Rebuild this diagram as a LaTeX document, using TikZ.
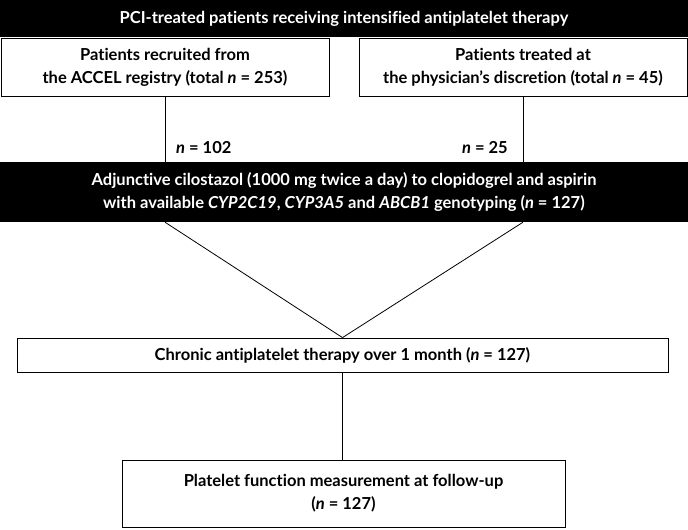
\documentclass[tikz,border=0pt]{standalone}
\usepackage{fontspec}
\setmainfont{Lato}[Ligatures={NoCommon,NoRare,NoContextual}]
\begin{document}
\begin{tikzpicture}[x=1pt,y=-1pt,
  darkbox/.style={fill=black,text=white,inner sep=0pt,align=center},
  lightbox/.style={draw=black,line width=0.8pt,fill=white,inner sep=0pt,align=center},
  link/.style={draw=black,line width=0.8pt}]
\useasboundingbox (0,0) rectangle (688,530);
\bfseries\fontsize{16.5}{23}\selectfont

\node[darkbox,minimum width=688pt,minimum height=37pt] (pci) at (344,18.5)
  {PCI-treated patients receiving intensified antiplatelet therapy};
\node[lightbox,minimum width=328pt,minimum height=58pt] (accel) at (165,67)
  {Patients recruited from\\the ACCEL registry (total \textit{n} = 253)};
\node[lightbox,minimum width=328pt,minimum height=58pt] (phys) at (523,67)
  {Patients treated at\\the physician's discretion (total \textit{n} = 45)};

\node[darkbox,minimum width=688pt,minimum height=60pt] (cilo) at (344,192)
  {Adjunctive cilostazol (1000 mg twice a day) to clopidogrel and aspirin\\
   with available \textit{CYP2C19}, \textit{CYP3A5} and \textit{ABCB1} genotyping (\textit{n} = 127)};

\node[lightbox,minimum width=651pt,minimum height=34pt] (chronic) at (342.5,355)
  {Chronic antiplatelet therapy over 1 month (\textit{n} = 127)};
\node[lightbox,minimum width=443pt,minimum height=67pt] (pfm) at (343.5,493.5)
  {Platelet function measurement at follow-up\\(\textit{n} = 127)};

% counts on the feed lines
\node[anchor=west,inner sep=0pt] (nleft) at (176,148) {\textit{n} = 102};
\node[anchor=east,inner sep=0pt] (nright) at (508,148) {\textit{n} = 25};

\draw[link] (accel.south) -- (accel.south |- cilo.north);
\draw[link] (phys.south) -- (phys.south |- cilo.north);
\draw[link] (cilo.south -| accel.south) -- (chronic.north);
\draw[link] (cilo.south -| phys.south) -- (chronic.north);
\draw[link] (chronic.south) -- (chronic.south |- pfm.north);

\end{tikzpicture}
\end{document}
